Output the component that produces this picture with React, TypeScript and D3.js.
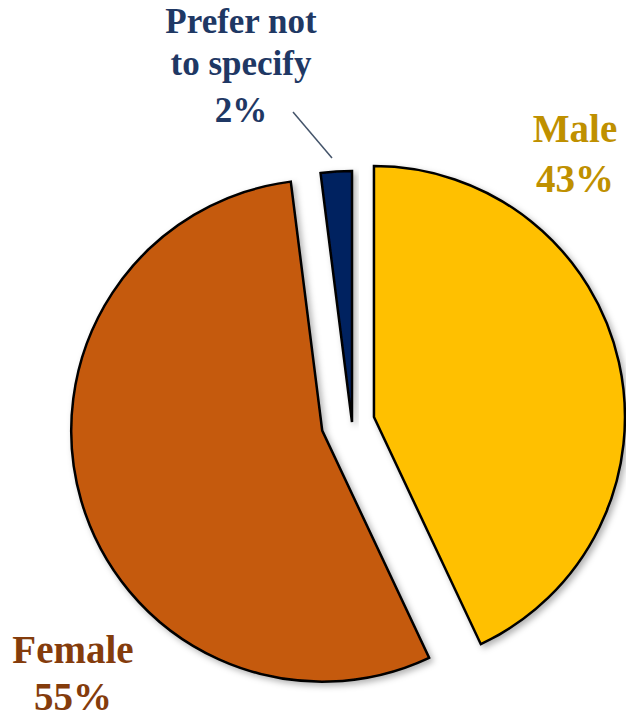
import React from "react";
import * as d3 from "d3";

const categories = ["Male", "Female", "Prefer not to specify"];
const percents = [43, 55, 2];
const labelLines = [["Male"], ["Female"], ["Prefer not", "to specify"]];

const sliceColors = ["#FFC000", "#C55A11", "#002060"];
const textColors = ["#BF9000", "#843C0C", "#1F3864"];

const W = 626;
const H = 719;
const CX = 352;
const CY = 422;
const R = 251;
const explode = [22.5, 31, 0];
const labelLayout = [
  { x: 575, ys: [142, 192], size: 39 },
  { x: 73, ys: [663, 710], size: 39 },
  { x: 241, ys: [33, 75, 122], size: 35 },
];

export default function App() {
  const pie = d3.pie<number>().sort(null).value((d) => d);
  const arcs = pie(percents);
  const arcGen = d3.arc<d3.PieArcDatum<number>>().innerRadius(0).outerRadius(R);

  return (
    <svg
      width={W}
      height={H}
      style={{ position: "absolute", left: 0, top: 0, background: "#fff" }}
    >
      <defs>
        <filter id="sh" x="-20%" y="-20%" width="140%" height="140%">
          <feDropShadow dx="3" dy="3" stdDeviation="3" floodColor="#000" floodOpacity="0.3" />
        </filter>
      </defs>
      <g transform={`translate(${CX},${CY})`}>
        {arcs.map((a, i) => {
          const mid = (a.startAngle + a.endAngle) / 2;
          const dx = Math.sin(mid) * explode[i];
          const dy = -Math.cos(mid) * explode[i];
          return (
            <path
              key={categories[i]}
              d={arcGen(a) || ""}
              transform={`translate(${dx},${dy})`}
              fill={sliceColors[i]}
              stroke="#000"
              strokeWidth={2.5}
              strokeLinejoin="miter"
              filter="url(#sh)"
            />
          );
        })}
      </g>
      <line x1={293} y1={112} x2={332} y2={158} stroke="#44546A" strokeWidth={1.5} />
      {labelLayout.map((l, i) => {
        const lines = [...labelLines[i], `${percents[i]}%`];
        return (
          <text
            key={categories[i]}
            fill={textColors[i]}
            fontFamily="'Liberation Serif', 'DejaVu Serif', serif"
            fontWeight="bold"
            fontSize={l.size}
            textAnchor="middle"
          >
            {lines.map((t, j) => (
              <tspan key={j} x={l.x} y={l.ys[j]}>
                {t}
              </tspan>
            ))}
          </text>
        );
      })}
    </svg>
  );
}
